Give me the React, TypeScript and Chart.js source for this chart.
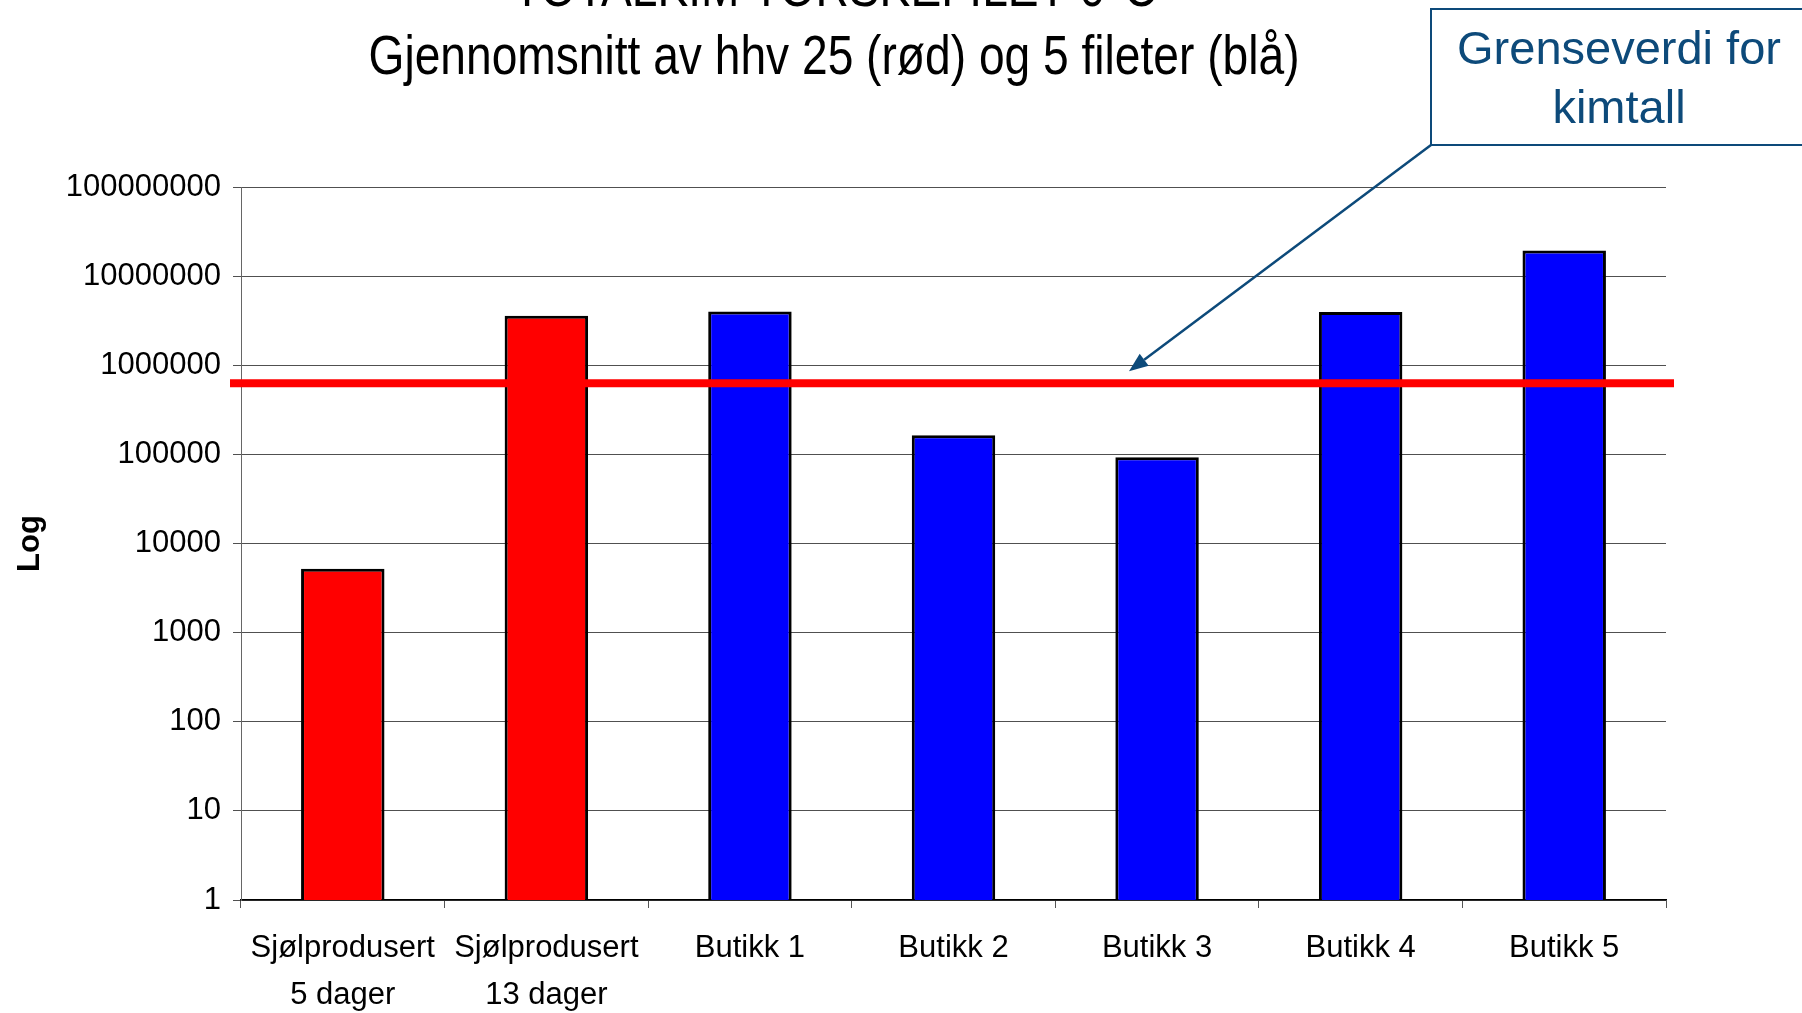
import React, { useEffect, useRef } from "react";
import { Chart, registerables } from "chart.js";

Chart.register(...registerables);

// ---- data ----
const categories: (string | string[])[] = [
  ["Sjølprodusert", "5 dager"],
  ["Sjølprodusert", "13 dager"],
  "Butikk 1",
  "Butikk 2",
  "Butikk 3",
  "Butikk 4",
  "Butikk 5",
];
const values = [5200, 3600000, 4000000, 164000, 93000, 3950000, 19400000];
const barColors = ["#FF0000", "#FF0000", "#0000FF", "#0000FF", "#0000FF", "#0000FF", "#0000FF"];
const limitValue = 630000;
const yTickValues = [1, 10, 100, 1000, 10000, 100000, 1000000, 10000000, 100000000];
const titleLines = ["TOTALKIM TORSKEFILET 0°C", "Gjennomsnitt av hhv 25 (rød) og 5 fileter (blå)"];
const annotationLines = ["Grenseverdi for", "kimtall"];
const yAxisTitle = "Log";

const FONT = '"Liberation Sans", Arial, sans-serif';
const ANNO_COLOR = "#0D4A7A";

const overlayPlugin = {
  id: "overlay",
  afterDatasetsDraw(chart: any) {
    const { ctx, chartArea, scales } = chart;
    const y = scales.y.getPixelForValue(limitValue);
    ctx.save();
    ctx.strokeStyle = "#FF0000";
    ctx.lineWidth = 8;
    ctx.beginPath();
    ctx.moveTo(chartArea.left - 11, y);
    ctx.lineTo(chartArea.right + 8, y);
    ctx.stroke();
    ctx.restore();
  },
  afterDraw(chart: any) {
    const { ctx, scales } = chart;
    ctx.save();
    // titles (condensed)
    ctx.fillStyle = "#000";
    ctx.font = `55px ${FONT}`;
    ctx.textAlign = "center";
    ctx.textBaseline = "alphabetic";
    const w2 = ctx.measureText(titleLines[1]).width;
    const sx = 931 / w2;
    const drawScaled = (t: string, x: number, yy: number) => {
      ctx.save();
      ctx.translate(x, yy);
      ctx.scale(sx, 1);
      ctx.fillText(t, 0, 0);
      ctx.restore();
    };
    drawScaled(titleLines[0], 835, 6);
    drawScaled(titleLines[1], 834, 74);

    // annotation box
    ctx.strokeStyle = ANNO_COLOR;
    ctx.lineWidth = 2;
    ctx.fillStyle = "#fff";
    ctx.fillRect(1431, 9, 400, 136);
    ctx.strokeRect(1431, 9, 400, 136);
    ctx.fillStyle = ANNO_COLOR;
    ctx.font = `47px ${FONT}`;
    ctx.textAlign = "center";
    ctx.fillText(annotationLines[0], 1619, 64);
    ctx.fillText(annotationLines[1], 1619, 123);

    // arrow
    const sxp = 1431, syp = 145;
    const tx = 1129;
    const ty = scales.y.getPixelForValue(limitValue) - 12;
    const ang = Math.atan2(ty - syp, tx - sxp);
    const len = 19, hw = 7.5;
    const bx = tx - len * Math.cos(ang), by = ty - len * Math.sin(ang);
    ctx.beginPath();
    ctx.moveTo(sxp, syp);
    ctx.lineTo(bx, by);
    ctx.lineWidth = 2.5;
    ctx.stroke();
    ctx.beginPath();
    ctx.moveTo(tx, ty);
    ctx.lineTo(bx + hw * Math.sin(ang), by - hw * Math.cos(ang));
    ctx.lineTo(bx - hw * Math.sin(ang), by + hw * Math.cos(ang));
    ctx.closePath();
    ctx.fill();
    ctx.restore();
  },
};

export default function App() {
  const ref = useRef<HTMLCanvasElement | null>(null);
  useEffect(() => {
    document.body.style.margin = "0";
    document.body.style.overflow = "hidden";
    const canvas = ref.current!;
    const chart = new Chart(canvas, {
      type: "bar",
      data: {
        labels: categories,
        datasets: [
          {
            data: values,
            backgroundColor: barColors,
            borderColor: "#000",
            borderWidth: 3,
            categoryPercentage: 1,
            barPercentage: 0.41,
          },
        ],
      },
      options: {
        responsive: false,
        devicePixelRatio: 1,
        animation: false,
        layout: { padding: { top: 187, right: 136, left: 0, bottom: 0 } },
        plugins: {
          legend: { display: false },
          title: { display: false },
          tooltip: { enabled: false },
        },
        scales: {
          x: {
            type: "category",
            offset: true,
            grid: {
              display: true,
              offset: true,
              drawOnChartArea: false,
              drawTicks: true,
              tickLength: 8,
              color: "#555",
            },
            border: { display: true, color: "#000", width: 1.5 },
            ticks: {
              color: "#000",
              font: { family: FONT, size: 31, lineHeight: 1.516 },
              padding: 17,
              maxRotation: 0,
              autoSkip: false,
            },
            afterFit(scale: any) {
              scale.height = 113;
            },
          },
          y: {
            type: "logarithmic",
            min: 1,
            max: 100000000,
            afterBuildTicks(scale: any) {
              scale.ticks = yTickValues.map((v) => ({ value: v }));
            },
            grid: {
              color: "#505050",
              lineWidth: 1,
              drawTicks: true,
              tickLength: 8,
            },
            border: { display: true, color: "#666", width: 1 },
            ticks: {
              color: "#000",
              font: { family: FONT, size: 31 },
              padding: 12,
              callback: (v: any) => String(Number(v)),
            },
            title: {
              display: true,
              text: yAxisTitle,
              color: "#000",
              font: { family: FONT, size: 31, weight: "bold" },
              padding: { top: 12, bottom: 0 },
            },
            afterFit(scale: any) {
              scale.width = 241;
            },
          },
        },
      },
      plugins: [overlayPlugin],
    } as any);
    return () => chart.destroy();
  }, []);
  return (
    <div style={{ width: 1802, height: 1013, background: "#fff" }}>
      <canvas ref={ref} width={1802} height={1013} style={{ display: "block" }} />
    </div>
  );
}
